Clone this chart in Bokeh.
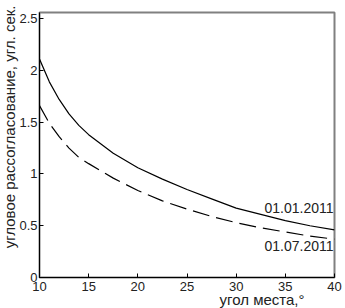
from bokeh.plotting import figure
from bokeh.models import Range1d, FixedTicker, Title
from bokeh.models import Label
from bokeh.embed import file_html
from bokeh.resources import INLINE

# data
elev = [10, 11, 12, 13, 14, 15, 17.5, 20, 22.5, 25, 27.5, 30, 32.5, 35, 37.5, 40]
jan = [2.11, 1.89, 1.72, 1.58, 1.47, 1.38, 1.20, 1.06, 0.95, 0.85, 0.76, 0.67, 0.61, 0.55, 0.50, 0.46]
jul = [1.66, 1.49, 1.36, 1.25, 1.16, 1.10, 0.96, 0.84, 0.74, 0.66, 0.59, 0.53, 0.48, 0.44, 0.40, 0.37]
x_ticks = [10, 15, 20, 25, 30, 35, 40]
y_ticks = [0, 0.5, 1, 1.5, 2, 2.5]
y_tick_labels = ["0", "0.5", "1", "1.5", "2", "2.5"]
label_jan = "01.01.2011"
label_jul = "01.07.2011"
x_label = "угол места,°"
y_label = "угловое рассогласование, угл. сек."

FONT = "Liberation Sans"
TXT = "#222222"

p = figure(width=345, height=308, output_backend="svg", toolbar_location=None,
           x_range=Range1d(10, 40), y_range=Range1d(0, 2.56),
           min_border_left=37, min_border_right=11, min_border_top=12, min_border_bottom=31)
p.background_fill_color = "white"
p.border_fill_color = "white"
p.grid.visible = False
p.outline_line_color = "#808080"
p.outline_line_width = 2

for ax in (p.xaxis, p.yaxis):
    ax.major_tick_in = 4
    ax.major_tick_out = 0
    ax.minor_tick_line_color = None
    ax.axis_line_color = "black"
    ax.major_tick_line_color = "black"
    ax.major_label_text_font = FONT
    ax.major_label_text_font_size = "13px"
    ax.major_label_text_color = TXT

p.xaxis.ticker = FixedTicker(ticks=x_ticks)
p.yaxis.ticker = FixedTicker(ticks=y_ticks)
p.yaxis.major_label_overrides = {t: s for t, s in zip(y_ticks, y_tick_labels)}
p.xaxis.major_label_standoff = 4
p.yaxis.major_label_standoff = 2

p.line(elev, jan, line_color="black", line_width=1.2)
p.line(elev, jul, line_color="black", line_width=1.2, line_dash="17 7")

p.add_layout(Label(x=39.9, y=0.67, text=label_jan, text_align="right", text_baseline="middle",
                   text_font=FONT, text_font_size="14px", text_color=TXT))
p.add_layout(Label(x=39.9, y=0.30, text=label_jul, text_align="right", text_baseline="middle",
                   text_font=FONT, text_font_size="14px", text_color=TXT))

p.add_layout(Title(text=x_label, align="right", offset=30, standoff=-6, vertical_align="top",
                   text_font=FONT, text_font_size="15px", text_font_style="normal",
                   text_color=TXT), "below")
p.add_layout(Title(text=y_label, align="right", offset=-7, standoff=-3,
                   text_font=FONT, text_font_size="15px", text_font_style="normal",
                   text_color=TXT), "left")

open("out.html", "w").write(file_html(p, INLINE))
